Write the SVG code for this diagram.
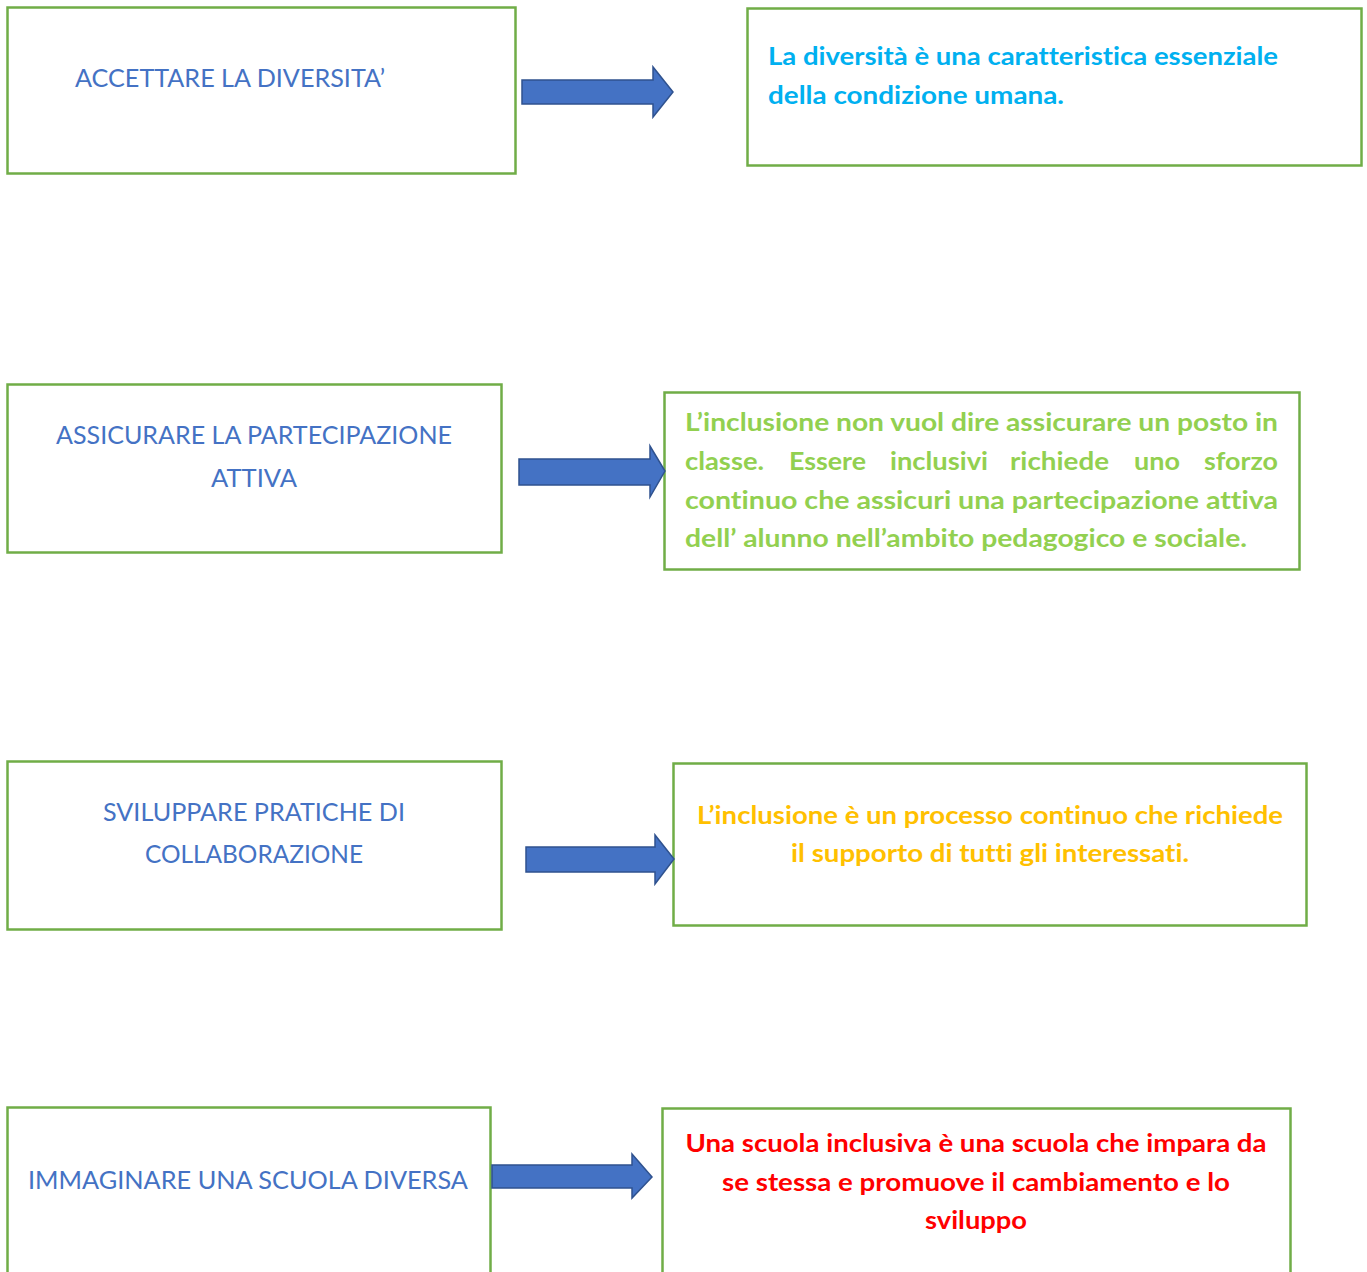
<svg xmlns="http://www.w3.org/2000/svg" width="1367" height="1272" viewBox="0 0 1367 1272">
<style>
.box{fill:#fff;stroke:#70AD47;stroke-width:2.5}
.arrow{fill:#4472C4;stroke:#2F528F;stroke-width:1.5;stroke-linejoin:miter}
text{font-variant-ligatures:none;font-feature-settings:"liga" 0,"clig" 0,"dlig" 0}
.lt{font-family:Lato,"Open Sans","Liberation Sans",sans-serif;font-size:25px;fill:#4472C4}
.rt{font-family:Lato,"Open Sans","Liberation Sans",sans-serif;font-size:24px;font-weight:bold}
.c{text-anchor:middle}
</style>
<rect width="1367" height="1272" fill="#fff"/>
<g id="n1"><rect class="box" x="7.5" y="7.5" width="508" height="166"/>
<text class="lt" x="75" y="87" textLength="310" lengthAdjust="spacingAndGlyphs">ACCETTARE LA DIVERSITA’</text></g>
<g id="n2"><rect class="box" x="747.5" y="8.5" width="614" height="157"/>
<text class="rt" fill="#00B0F0" x="768" y="65" textLength="510" lengthAdjust="spacingAndGlyphs">La diversità è una caratteristica essenziale</text>
<text class="rt" fill="#00B0F0" x="768" y="104" textLength="296" lengthAdjust="spacingAndGlyphs">della condizione umana.</text></g>
<g id="n3"><rect class="box" x="7.5" y="384.5" width="494" height="168"/>
<text class="lt c" x="254" y="444" textLength="396" lengthAdjust="spacingAndGlyphs">ASSICURARE LA PARTECIPAZIONE</text>
<text class="lt c" x="254" y="487" textLength="86" lengthAdjust="spacingAndGlyphs">ATTIVA</text></g>
<g id="n4"><rect class="box" x="664.5" y="392.5" width="635" height="177"/>
<g fill="#92D050">
<text class="rt" x="685" y="431" textLength="593" lengthAdjust="spacingAndGlyphs">L’inclusione non vuol dire assicurare un posto in</text>
<text class="rt" x="685" y="470" textLength="79" lengthAdjust="spacingAndGlyphs">classe.</text>
<text class="rt" x="789" y="470" textLength="77" lengthAdjust="spacingAndGlyphs">Essere</text>
<text class="rt" x="890" y="470" textLength="98" lengthAdjust="spacingAndGlyphs">inclusivi</text>
<text class="rt" x="1010" y="470" textLength="99" lengthAdjust="spacingAndGlyphs">richiede</text>
<text class="rt" x="1134" y="470" textLength="46" lengthAdjust="spacingAndGlyphs">uno</text>
<text class="rt" x="1204" y="470" textLength="74" lengthAdjust="spacingAndGlyphs">sforzo</text>
<text class="rt" x="685" y="509" textLength="593" lengthAdjust="spacingAndGlyphs">continuo che assicuri una partecipazione attiva</text>
<text class="rt" x="685" y="547" textLength="562" lengthAdjust="spacingAndGlyphs">dell’ alunno  nell’ambito pedagogico e sociale.</text>
</g></g>
<g id="n5"><rect class="box" x="7.5" y="761.5" width="494" height="168"/>
<text class="lt c" x="254" y="821" textLength="302" lengthAdjust="spacingAndGlyphs">SVILUPPARE PRATICHE DI</text>
<text class="lt c" x="254" y="863" textLength="218" lengthAdjust="spacingAndGlyphs">COLLABORAZIONE</text></g>
<g id="n6"><rect class="box" x="673.5" y="763.5" width="633" height="162"/>
<text class="rt c" fill="#FFC000" x="990" y="824" textLength="586" lengthAdjust="spacingAndGlyphs">L’inclusione è un processo continuo che richiede</text>
<text class="rt c" fill="#FFC000" x="990" y="862" textLength="398" lengthAdjust="spacingAndGlyphs">il supporto di tutti gli interessati.</text></g>
<g id="n7"><rect class="box" x="7.5" y="1107.5" width="483" height="190"/>
<text class="lt" x="28" y="1189" textLength="440" lengthAdjust="spacingAndGlyphs">IMMAGINARE UNA SCUOLA DIVERSA</text></g>
<g id="n8"><rect class="box" x="662.5" y="1108.5" width="628" height="190"/>
<text class="rt c" fill="#FF0000" x="976" y="1152" textLength="581" lengthAdjust="spacingAndGlyphs">Una scuola inclusiva è una scuola che impara da</text>
<text class="rt c" fill="#FF0000" x="976" y="1191" textLength="508" lengthAdjust="spacingAndGlyphs">se stessa e promuove il cambiamento e lo</text>
<text class="rt c" fill="#FF0000" x="976" y="1229" textLength="102" lengthAdjust="spacingAndGlyphs">sviluppo</text></g>
<g id="connectors">
<polygon class="arrow" points="522,80 653,80 653,67 673,92 653,117 653,104 522,104"/>
<polygon class="arrow" points="519,459 650,459 650,446 665,471 650,497 650,485 519,485"/>
<polygon class="arrow" points="526,847 655,847 655,835 674,859 655,884 655,872 526,872"/>
<polygon class="arrow" points="492,1165 632,1165 632,1154 652,1177 632,1198 632,1188 492,1188"/>
</g>
</svg>
